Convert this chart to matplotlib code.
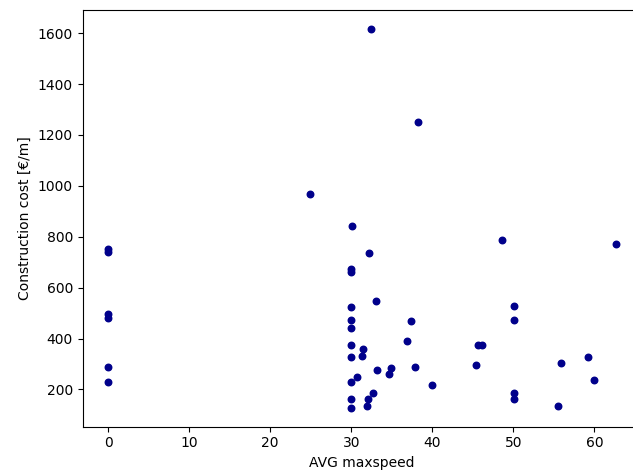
import matplotlib
matplotlib.use("Agg")
import matplotlib.pyplot as plt

# AVG maxspeed vs construction cost
maxspeed = [0, 0, 0, 0, 0, 0,
            30.1, 32.2, 30.0, 30.0, 33.1, 30.0, 37.4, 30.0, 30.0, 36.9,
            30.0, 31.4, 31.3, 30.0, 37.9, 33.2, 34.9, 34.6, 30.7, 30.0,
            40.0, 32.7, 30.0, 32.1, 30.0, 31.9,
            48.6, 62.7, 50.1, 50.1, 45.7, 46.1, 45.4, 55.9, 59.2, 60.0,
            50.1, 50.1, 55.5,
            32.4, 38.2, 24.9]
cost = [752, 741, 498, 480, 287, 229,
        843, 735, 675, 662, 546, 522, 470, 474, 440, 389,
        374, 358, 332, 326, 289, 276, 285, 262, 248, 231,
        217, 185, 162, 161, 128, 136,
        787, 771, 529, 471, 373, 373, 297, 305, 329, 237,
        186, 164, 136,
        1616, 1250, 969]

fig = plt.figure(figsize=(6.33, 4.75), dpi=100)
ax = fig.add_axes([0.1307, 0.1017, 0.883, 0.877])

ax.scatter(maxspeed, cost, s=22, color='darkblue')
ax.set_xlabel('AVG maxspeed')
ax.set_ylabel('Construction cost [€/m]')

fig.savefig('out.png', dpi=100)
